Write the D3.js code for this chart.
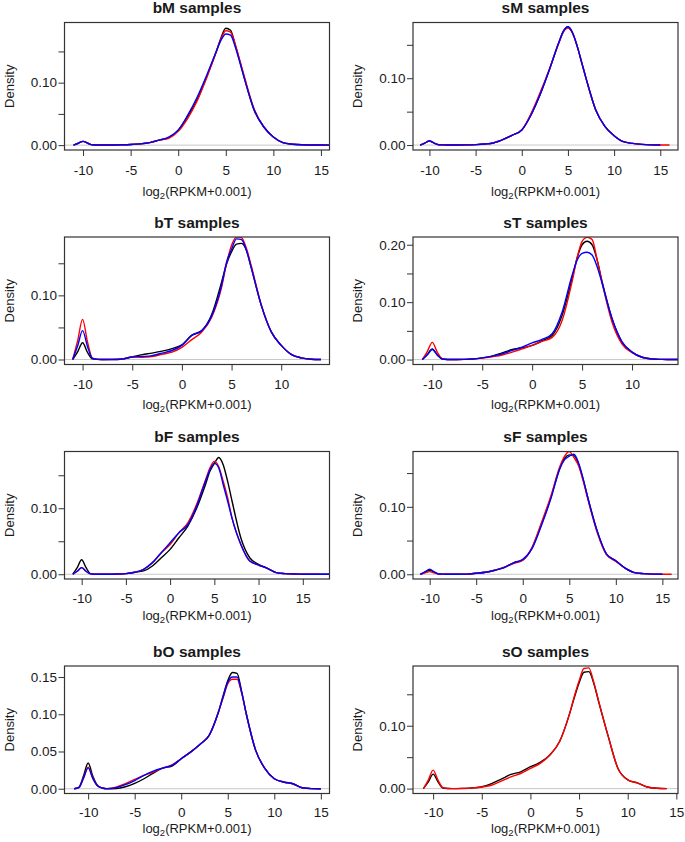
<!DOCTYPE html>
<html>
<head>
<meta charset="utf-8">
<script src="https://cdn.jsdelivr.net/npm/d3@7"></script>
<style>
body { margin: 0; background: #fff; }
svg { font-family: "Liberation Sans", Arial, Helvetica, sans-serif; }
</style>
</head>
<body>
<script>
var grid = [-11.5, -11, -10.5, -10, -9.5, -9, -8.5, -8, -7, -6, -5, -4, -3, -2, -1, 0, 1, 2, 3, 4, 4.5, 5, 5.5, 6, 6.5, 7, 8, 9, 10, 11, 12, 13, 14, 15, 16, 17, 18];

var panelTitles = ["bM samples", "sM samples", "bT samples", "sT samples", "bF samples", "sF samples", "bO samples", "sO samples"];

// plot limits of each panel (as R drew them)
var xLims = [[-11.95, 15.9], [-11.78, 16.92], [-11.82, 14.86], [-11.93, 14.6], [-11.94, 18.02], [-11.79, 16.68], [-12.54, 15.93], [-12.07, 15.17]];
var yLims = [[-0.0078, 0.1963], [-0.0074, 0.1834], [-0.0078, 0.191], [-0.0086, 0.2135], [-0.0072, 0.186], [-0.007, 0.182], [-0.0064, 0.1648], [-0.0078, 0.195]];

var xTicks = [[-10, -5, 0, 5, 10, 15], [-10, -5, 0, 5, 10, 15], [-10, -5, 0, 5, 10], [-10, -5, 0, 5, 10], [-10, -5, 0, 5, 10, 15], [-10, -5, 0, 5, 10, 15], [-10, -5, 0, 5, 10, 15], [-10, -5, 0, 5, 10, 15]];
var yTicks = [[0, 0.05, 0.1, 0.15], [0, 0.05, 0.1, 0.15], [0, 0.05, 0.1, 0.15], [0, 0.05, 0.1, 0.15, 0.2], [0, 0.05, 0.1, 0.15], [0, 0.05, 0.1, 0.15], [0, 0.05, 0.1, 0.15], [0, 0.05, 0.1, 0.15]];
var yLabels = [[0, 0.1], [0, 0.1], [0, 0.1], [0, 0.1, 0.2], [0, 0.1], [0, 0.1], [0, 0.05, 0.1, 0.15], [0, 0.1]];

// density values on the grid, one array per sample curve
var bMBlack = [null, 0, .003, .006, .003, .0005, .0002, .0001, .0002, .0005, .001, .002, .004, .008, .012, .024, .046, .073, .110, .150, .172, .187, .184, .160, .133, .105, .055, .029, .013, .004, .0015, .0005, .0002, .0001, 0, null, null];
var bMRed = [null, 0, .003, .006, .003, .0005, .0002, .0001, .0002, .0005, .001, .002, .004, .008, .011, .022, .043, .071, .108, .149, .170, .183, .181, .161, .134, .107, .057, .029, .013, .004, .0015, .0005, .0002, .0001, 0, null, null];
var bMBlue = [null, 0, .003, .006, .003, .0005, .0002, .0001, .0002, .0005, .001, .002, .004, .008, .013, .024, .048, .077, .112, .150, .168, .178, .176, .157, .131, .104, .056, .029, .013, .004, .0015, .0005, .0002, .0001, 0, null, null];

var sMBlack = [null, 0, .003, .006, .003, .0005, .0002, .0001, .0001, .0002, .0006, .0015, .0035, .0085, .015, .0225, .045, .076, .113, .153, .170, .177, .168, .148, .123, .098, .053, .028, .014, .005, .0025, .001, .0003, .0001, null, null, null];
var sMRed = [null, 0, .003, .006, .003, .0005, .0002, .0001, .0001, .0002, .0006, .0015, .0035, .0085, .015, .0225, .047, .079, .114, .152, .169, .175, .167, .148, .123, .098, .053, .028, .014, .005, .0025, .001, .0003, .0001, 0, null, null];
var sMBlue = [null, 0, .003, .006, .003, .0005, .0002, .0001, .0001, .0002, .0006, .0015, .0035, .0085, .015, .0225, .045, .076, .113, .153, .170, .177, .168, .148, .123, .098, .053, .028, .014, .005, .0025, .001, .0003, .0001, null, null, null];

var bTBlack = [null, 0, .012, .026, .011, .001, .0002, 0, .0002, .001, .004, .0075, .010, .013, .017, .023, .038, .045, .070, .121, .149, .168, .180, .181, .170, .142, .084, .043, .022, .008, .0026, .0005, 0, null, null, null, null];
var bTRed = [null, 0, .029, .0625, .027, .002, .0003, 0, 0, .0008, .004, .0036, .0047, .008, .0115, .019, .031, .043, .066, .113, .150, .178, .191, .190, .173, .145, .085, .043, .022, .008, .0026, .0005, 0, null, null, null, null];
var bTBlue = [null, 0, .021, .045, .020, .0015, .0002, 0, 0, .0008, .004, .0047, .006, .010, .014, .022, .0375, .045, .068, .116, .152, .172, .188, .187, .170, .142, .084, .043, .022, .008, .0026, .0005, 0, null, null, null, null];

var sTBlack = [null, 0, .009, .0187, .008, .001, .0002, 0, .0003, .001, .003, .006, .0117, .0175, .0205, .0246, .033, .042, .077, .1415, .177, .200, .206, .200, .174, .136, .071, .030, .013, .004, .001, .0003, 0, 0, null, null, null];
var sTRed = [null, 0, .014, .030, .013, .0015, .0002, 0, .0002, .0008, .0025, .005, .008, .013, .0187, .0246, .0316, .0386, .068, .136, .177, .206, .213, .209, .174, .134, .065, .027, .012, .004, .001, .0003, 0, 0, null, null, null];
var sTBlue = [null, 0, .008, .0175, .008, .001, .0002, 0, .0003, .001, .003, .006, .010, .016, .0216, .029, .035, .045, .083, .147, .173, .185, .187, .182, .162, .133, .071, .031, .013, .004, .001, .0003, 0, 0, null, null, null];

var bFBlack = [null, 0, .010, .022, .010, .001, .0002, 0, 0, .0003, .001, .003, .005, .0125, .025, .0377, .0553, .073, .100, .136, .156, .168, .177, .166, .141, .111, .055, .025, .015, .009, .0025, .001, .0003, .0001, 0, 0, 0];
var bFRed = [null, 0, .0045, .010, .0045, .0005, .0001, 0, 0, .0003, .001, .003, .0075, .0176, .0327, .045, .063, .078, .106, .143, .161, .171, .163, .141, .116, .085, .045, .020, .014, .009, .0025, .001, .0003, .0001, 0, 0, null];
var bFBlue = [null, 0, .0045, .010, .0045, .0005, .0001, 0, 0, .0003, .001, .003, .0075, .0176, .0327, .0477, .063, .075, .103, .141, .158, .168, .161, .136, .111, .085, .045, .020, .014, .009, .0025, .001, .0003, .0001, 0, 0, 0];

var sFBlack = [null, 0, .003, .006, .003, .0005, .0002, 0, 0, .0002, .0015, .003, .006, .010, .017, .021, .039, .074, .113, .158, .172, .177, .176, .163, .140, .113, .064, .030, .020, .009, .0025, .001, .0003, 0, null, null, null];
var sFRed = [null, 0, .002, .004, .002, .0004, .0001, 0, 0, .0002, .0015, .003, .006, .0105, .016, .021, .040, .076, .115, .160, .175, .182, .173, .161, .138, .111, .062, .029, .019, .009, .0025, .001, .0003, .0001, 0, null, null];
var sFBlue = [null, 0, .0037, .0074, .0035, .0005, .0002, 0, 0, .0002, .0015, .003, .006, .010, .017, .022, .038, .072, .111, .157, .170, .175, .178, .165, .141, .113, .064, .030, .020, .009, .0025, .001, .0003, 0, null, null, null];

var bOBlack = [0, .002, .017, .0345, .017, .0045, .001, 0, .0003, .0027, .0072, .0134, .021, .0277, .0305, .0403, .0492, .0595, .0716, .103, .125, .145, .156, .155, .130, .100, .0515, .027, .0134, .009, .0067, .0013, .0002, 0, null, null, null];
var bORed = [0, .0015, .0145, .029, .0145, .004, .001, .0002, .002, .0067, .0125, .018, .0224, .0277, .032, .0403, .0492, .0595, .0716, .103, .122, .141, .147, .147, .128, .100, .0515, .027, .0134, .009, .0067, .0013, .0002, 0, null, null, null];
var bOBlue = [0, .0015, .014, .028, .014, .004, .001, .0001, .0015, .0054, .011, .018, .0237, .0277, .0313, .0403, .0492, .0595, .0716, .103, .123, .143, .150, .150, .129, .100, .0515, .027, .0134, .009, .0067, .0013, .0002, 0, null, null, null];

var sOBlack = [null, 0, .0107, .023, .0107, .001, .0002, 0, .0003, .001, .003, .008, .015, .0225, .0267, .0348, .0417, .0535, .0749, .1176, .144, .168, .185, .186, .168, .139, .083, .032, .014, .009, .0025, .0005, 0, null, null, null, null];
var sORed = [null, 0, .0134, .0294, .0134, .0015, .0002, 0, .0002, .0008, .0025, .0053, .0118, .0187, .024, .032, .040, .0535, .0749, .118, .146, .171, .191, .192, .170, .140, .083, .032, .014, .009, .0025, .0005, 0, null, null, null, null];

var curveColors = ["#000000", "#ff0000", "#0000ff"];
var panelCurves = [
	[bMBlack, bMRed, bMBlue], [sMBlack, sMRed, sMBlue],
	[bTBlack, bTRed, bTBlue], [sTBlack, sTRed, sTBlue],
	[bFBlack, bFRed, bFBlue], [sFBlack, sFRed, sFBlue],
	[bOBlack, bORed, bOBlue], [sOBlack, sORed]
];

var width = 685, height = 842;
var svg = d3.select("body").append("svg").attr("width", width).attr("height", height);

// layout of the 2 x 4 grid of plot boxes
var colLeft = [64.5, 413], boxW = 265, boxH = 127.5, firstTop = 22.5, rowStep = 214.5;
// the lower rows of the original sit a bit tighter under their boxes
var xLabelGap = [46, 44.5, 41, 39];
var textColor = "#1a1a1a";

panelTitles.forEach(function(title, i) {
	var col = i % 2, row = Math.floor(i / 2);
	var left = colLeft[col], top = firstTop + row * rowStep;

	var x = d3.scaleLinear().domain(xLims[i]).range([left, left + boxW]);
	var y = d3.scaleLinear().domain(yLims[i]).range([top + boxH, top]);

	var g = svg.append("g").attr("class", "panel");

	svg.append("clipPath").attr("id", "clip" + i)
		.append("rect").attr("x", left).attr("y", top).attr("width", boxW).attr("height", boxH);

	// grey zero line, like plot(density)
	g.append("line")
		.attr("x1", left).attr("x2", left + boxW)
		.attr("y1", y(0)).attr("y2", y(0))
		.attr("stroke", "#c8c8c8").attr("stroke-width", 1);

	var line = d3.line()
		.defined(function(d) { return d[1] != null; })
		.x(function(d) { return x(d[0]); })
		.y(function(d) { return y(d[1]); })
		.curve(d3.curveMonotoneX);

	var curves = g.append("g").attr("clip-path", "url(#clip" + i + ")");
	panelCurves[i].forEach(function(vals, k) {
		var pts = grid.map(function(gx, j) { return [gx, vals[j]]; });
		curves.append("path")
			.attr("d", line(pts))
			.attr("fill", "none")
			.attr("stroke", curveColors[k])
			.attr("stroke-width", 1.4)
			.attr("stroke-linejoin", "round");
	});

	// box
	g.append("rect")
		.attr("x", left).attr("y", top).attr("width", boxW).attr("height", boxH)
		.attr("fill", "none").attr("stroke", "#333").attr("stroke-width", 1.2);

	// x axis
	var xAxis = g.append("g")
		.attr("transform", "translate(0," + (top + boxH) + ")")
		.call(d3.axisBottom(x).tickValues(xTicks[i]).tickSize(6).tickPadding(row > 1 ? 8 : 9)
			.tickFormat(function(d) { return String(d); }));
	xAxis.select(".domain").remove();

	// y axis, some tick labels left out as in the original
	var labs = yLabels[i];
	var yAxis = g.append("g")
		.attr("transform", "translate(" + left + ",0)")
		.call(d3.axisLeft(y).tickValues(yTicks[i]).tickSize(6).tickPadding(1.5)
			.tickFormat(function(d) {
				var show = labs.some(function(v) { return Math.abs(v - d) < 1e-9; });
				return show ? d3.format(".2f")(d) : "";
			}));
	yAxis.select(".domain").remove();

	g.selectAll(".tick line").attr("stroke", "#333").attr("stroke-width", 1);
	g.selectAll(".tick text").attr("fill", textColor)
		.style("font-family", "'Liberation Sans', Arial, sans-serif").style("font-size", "13.5px");

	// title
	g.append("text")
		.attr("x", left + boxW / 2).attr("y", top - 9.5)
		.attr("text-anchor", "middle")
		.attr("font-weight", "bold").attr("font-size", "15.5px").attr("fill", textColor)
		.text(title);

	// x label with subscript
	var xl = g.append("text")
		.attr("x", left + boxW / 2).attr("y", top + boxH + xLabelGap[row])
		.attr("text-anchor", "middle").attr("font-size", "13px").attr("fill", textColor);
	xl.append("tspan").text("log");
	xl.append("tspan").attr("font-size", "9.5px").attr("dy", 3).text("2");
	xl.append("tspan").attr("dy", -3).text("(RPKM+0.001)");

	// y label
	g.append("text")
		.attr("transform", "translate(" + (left - 51) + "," + (top + boxH / 2) + ") rotate(-90)")
		.attr("text-anchor", "middle").attr("font-size", "13px").attr("fill", textColor)
		.text("Density");
});
</script>
</body>
</html>
